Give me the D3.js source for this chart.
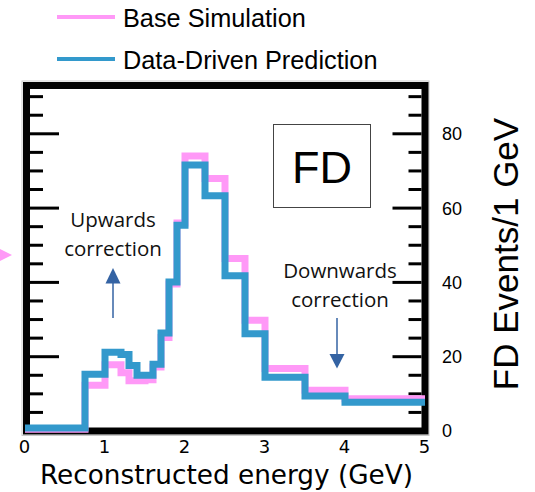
<!DOCTYPE html>
<html>
<head>
<meta charset="utf-8">
<script src="https://cdn.jsdelivr.net/npm/d3@7"></script>
<style>
  html, body { margin: 0; padding: 0; background: #fff; }
  svg { display: block; }
</style>
</head>
<body>
<svg id="chart" width="535" height="492"></svg>
<script>
/* ------------------ data ------------------ */

// bin edges in GeV (variable width)
const binEdges = [0, 0.75, 1.0, 1.1, 1.2, 1.3, 1.4, 1.5, 1.6, 1.7, 1.8, 1.9, 2.0, 2.25, 2.5, 2.75, 3.0, 3.5, 4.0, 5.0];

// events / 1 GeV
const baseSimulation = [0.5, 12.3, 17.8, 17.8, 15.7, 13.5, 13.5, 13.8, 17.2, 25.2, 39.6, 56.0, 74.0, 68.0, 46.4, 29.8, 16.8, 11.0, 8.7];
const dataDriven     = [0.8, 15.3, 21.2, 21.2, 20.6, 17.6, 15.0, 15.0, 18.0, 26.4, 40.1, 55.4, 71.6, 63.3, 41.8, 26.2, 14.5, 9.4, 7.75];

const xTicks = [0, 1, 2, 3, 4, 5];
const yMajorTicks = [0, 20, 40, 60, 80];
const yMinorTicks = d3.range(5, 95, 5);

const seriesNames = ["Base Simulation", "Data-Driven Prediction"];

/* ------------------ constants ------------------ */

const PINK = "#ff99f7";
const BLUE = "#3399cc";
const ARROW = "#3463a3";
const HIST_WIDTH = 7;
const FRAME_WIDTH = 7;

const svg = d3.select("#chart");

const x = d3.scaleLinear().domain([0, 5]).range([25, 425]);
const y = d3.scaleLinear().domain([0, 93]).range([431, 85.5]);

/* ------------------ frame ------------------ */

// faint outer edge
svg.append("rect")
  .attr("x", x(0) - 3).attr("y", y(93) - 4.5)
  .attr("width", x(5) - x(0) + 7).attr("height", y(0) - y(93) + 9)
  .attr("fill", "none").attr("stroke", "#c8c8c8").attr("stroke-width", 1);

svg.append("rect")
  .attr("x", x(0) + 1.5).attr("y", y(93))
  .attr("width", x(5) - x(0) - 1.5).attr("height", y(0) - y(93))
  .attr("fill", "none").attr("stroke", "#000").attr("stroke-width", FRAME_WIDTH);

/* ---- ticks, both sides pointing inward ---- */

const leftIn = x(0) + 1.5 + FRAME_WIDTH / 2;
const rightIn = x(5) - FRAME_WIDTH / 2;

function drawTicks(vals, len) {
  const g = svg.append("g").attr("stroke", "#000").attr("stroke-width", 3);
  g.selectAll("line.l").data(vals).join("line")
    .attr("class", "l")
    .attr("x1", leftIn).attr("x2", leftIn + len)
    .attr("y1", d => y(d)).attr("y2", d => y(d));
  g.selectAll("line.r").data(vals).join("line")
    .attr("class", "r")
    .attr("x1", rightIn - len).attr("x2", rightIn)
    .attr("y1", d => y(d)).attr("y2", d => y(d));
}
drawTicks(yMinorTicks.filter(v => v % 20 !== 0), 13);
drawTicks(yMajorTicks.filter(v => v > 0), 29);

/* ---- tick labels ---- */

svg.append("g")
  .selectAll("text")
  .data(yMajorTicks)
  .join("text")
  .attr("x", 442)
  .attr("y", d => y(d))
  .attr("dy", "0.36em")
  .attr("font-family", "Liberation Sans, Arial, sans-serif")
  .attr("font-size", 18)
  .text(d => d);

svg.append("g")
  .selectAll("text")
  .data(xTicks)
  .join("text")
  .attr("x", d => x(d) - 0.5)
  .attr("y", 453)
  .attr("text-anchor", "middle")
  .attr("font-family", "DejaVu Sans, sans-serif")
  .attr("font-size", 18)
  .text(d => d);

/* ---- axis titles ---- */

svg.append("text")
  .attr("x", 226.5)
  .attr("y", 484)
  .attr("text-anchor", "middle")
  .attr("font-family", "DejaVu Sans, sans-serif")
  .attr("font-size", 26.3)
  .text("Reconstructed energy (GeV)");

svg.append("text")
  .attr("transform", "translate(518,254) rotate(-90)")
  .attr("text-anchor", "middle")
  .attr("font-family", "Liberation Sans, Arial, sans-serif")
  .attr("font-size", 35)
  .text("FD Events/1 GeV");

/* ------------------ histograms ------------------ */

const stepLine = d3.line()
  .x(d => x(d[0]))
  .y(d => y(d[1]))
  .curve(d3.curveStepAfter);

function histPoints(values) {
  return binEdges.map((e, i) => [e, values[Math.min(i, values.length - 1)]]);
}

svg.append("path")
  .attr("d", stepLine(histPoints(baseSimulation)))
  .attr("fill", "none")
  .attr("stroke", PINK)
  .attr("stroke-width", HIST_WIDTH)
  .attr("stroke-linejoin", "miter");

svg.append("path")
  .attr("d", stepLine(histPoints(dataDriven)))
  .attr("fill", "none")
  .attr("stroke", BLUE)
  .attr("stroke-width", HIST_WIDTH)
  .attr("stroke-linejoin", "miter");

/* ------------------ legend ------------------ */

const legend = svg.append("g")
  .selectAll("g")
  .data(seriesNames)
  .join("g")
  .attr("transform", (d, i) => `translate(0, ${17 + i * 42})`);

legend.append("line")
  .attr("x1", 57).attr("x2", 115)
  .attr("stroke", (d, i) => i === 0 ? PINK : BLUE)
  .attr("stroke-width", 4);

legend.append("text")
  .attr("x", 123)
  .attr("y", 9.8)
  .attr("font-family", "Liberation Sans, Arial, sans-serif")
  .attr("font-size", 25.3)
  .text(d => d);

// clipped legend marker at the left edge
svg.append("path")
  .attr("d", "M-6,246L12,255L-6,264Z")
  .attr("fill", PINK);

/* ------------------ FD box ------------------ */

svg.append("rect")
  .attr("x", 273.5).attr("y", 124.5)
  .attr("width", 97).attr("height", 83)
  .attr("fill", "none").attr("stroke", "#444").attr("stroke-width", 1);

svg.append("text")
  .attr("x", 322)
  .attr("y", 183)
  .attr("text-anchor", "middle")
  .attr("font-family", "Liberation Sans, Arial, sans-serif")
  .attr("font-size", 45)
  .text("FD");

/* ------------------ annotations ------------------ */

function note(cx, lines, baseY) {
  svg.append("g")
    .selectAll("text")
    .data(lines)
    .join("text")
    .attr("x", cx)
    .attr("y", (d, i) => baseY + i * 29)
    .attr("text-anchor", "middle")
    .attr("font-family", "Open Sans, Noto Sans, sans-serif")
    .attr("font-size", 20.5)
    .attr("fill", "#111")
    .text(d => d);
}
note(113, ["Upwards", "correction"], 227);
note(340, ["Downwards", "correction"], 278);

// up arrow
svg.append("line")
  .attr("x1", 113).attr("x2", 113).attr("y1", 282).attr("y2", 318)
  .attr("stroke", ARROW).attr("stroke-width", 1.5);
svg.append("path")
  .attr("d", "M113,268L120.5,283.5L105.5,283.5Z")
  .attr("fill", ARROW);

// down arrow
svg.append("line")
  .attr("x1", 337).attr("x2", 337).attr("y1", 318).attr("y2", 355)
  .attr("stroke", ARROW).attr("stroke-width", 1.5);
svg.append("path")
  .attr("d", "M337,368.5L344.5,354L329.5,354Z")
  .attr("fill", ARROW);
</script>
</body>
</html>
